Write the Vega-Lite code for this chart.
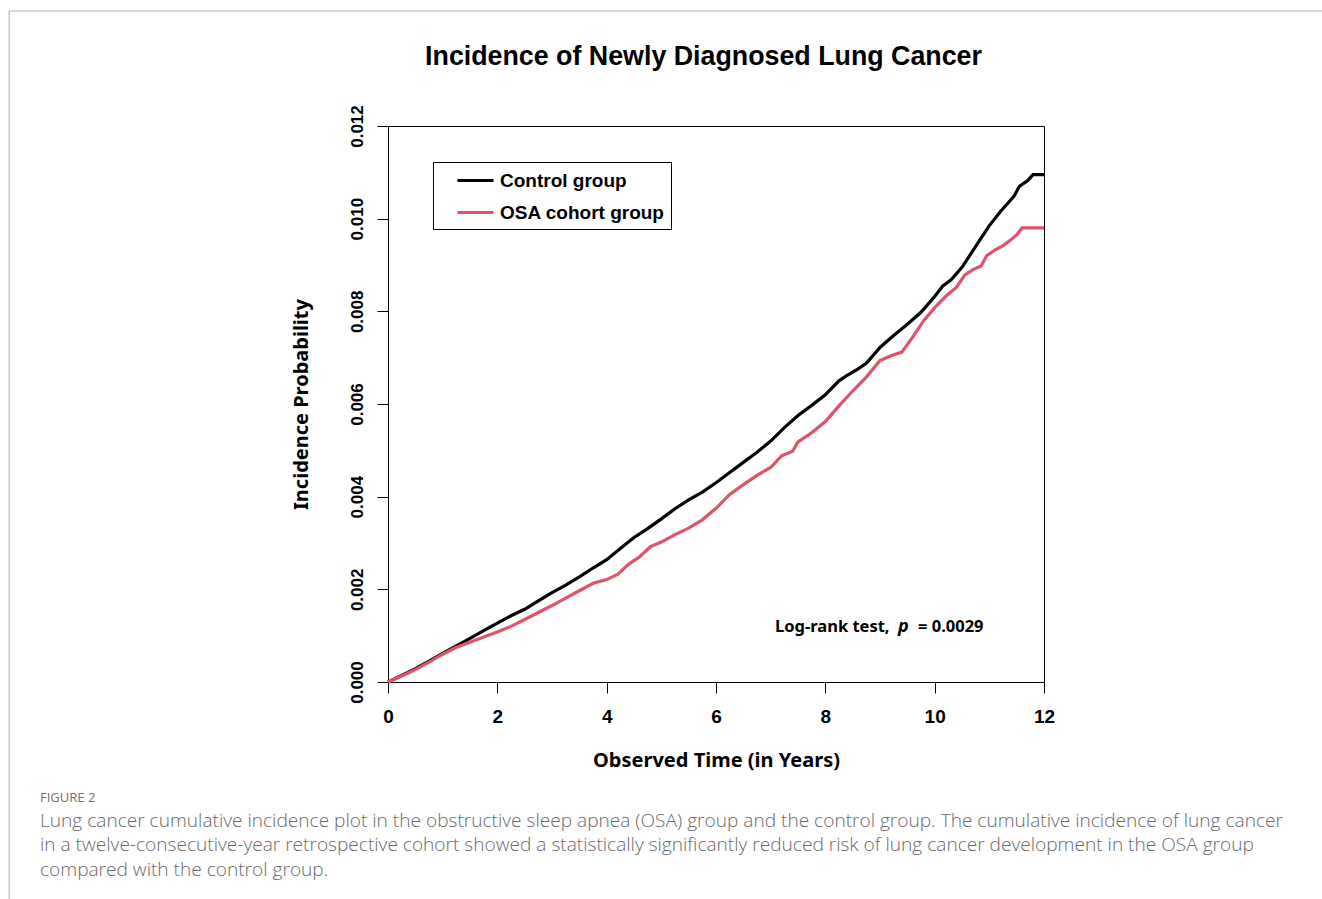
{
  "$schema": "https://vega.github.io/schema/vega-lite/v6.json",
  "width": 656,
  "height": 556,
  "autosize": {"type": "none"},
  "padding": {"left": 388, "top": 126, "right": 278, "bottom": 217},
  "background": "white",
  "title": {
    "text": "FIGURE 2",
    "subtitle": [
      "Lung cancer cumulative incidence plot in the obstructive sleep apnea (OSA) group and the control group. The cumulative incidence of lung cancer",
      "in a twelve-consecutive-year retrospective cohort showed a statistically significantly reduced risk of lung cancer development in the OSA group",
      "compared with the control group."
    ],
    "orient": "bottom",
    "anchor": "start",
    "frame": "group",
    "dx": -348,
    "offset": -109,
    "font": "Open Sans",
    "fontSize": 13,
    "fontWeight": "normal",
    "color": "#707070",
    "subtitleFont": "Open Sans",
    "subtitleFontSize": 19.1,
    "subtitleFontWeight": 300,
    "subtitleColor": "#6a6a6a",
    "subtitleLineHeight": 24.5,
    "subtitlePadding": 7
  },
  "datasets": {
    "curves": [
      {"group": "Control group", "t": 0, "p": 0},
      {"group": "Control group", "t": 0.25, "p": 0.00014},
      {"group": "Control group", "t": 0.5, "p": 0.00029},
      {"group": "Control group", "t": 0.75, "p": 0.00045},
      {"group": "Control group", "t": 1.0, "p": 0.00062},
      {"group": "Control group", "t": 1.25, "p": 0.00078},
      {"group": "Control group", "t": 1.5, "p": 0.00094},
      {"group": "Control group", "t": 1.75, "p": 0.00111},
      {"group": "Control group", "t": 2.0, "p": 0.00127},
      {"group": "Control group", "t": 2.25, "p": 0.00143},
      {"group": "Control group", "t": 2.5, "p": 0.00157},
      {"group": "Control group", "t": 2.75, "p": 0.00175},
      {"group": "Control group", "t": 3.0, "p": 0.00193},
      {"group": "Control group", "t": 3.25, "p": 0.00209},
      {"group": "Control group", "t": 3.5, "p": 0.00227},
      {"group": "Control group", "t": 3.75, "p": 0.00246},
      {"group": "Control group", "t": 4.0, "p": 0.00264},
      {"group": "Control group", "t": 4.25, "p": 0.00288},
      {"group": "Control group", "t": 4.5, "p": 0.00312},
      {"group": "Control group", "t": 4.75, "p": 0.00331},
      {"group": "Control group", "t": 5.0, "p": 0.00352},
      {"group": "Control group", "t": 5.25, "p": 0.00374},
      {"group": "Control group", "t": 5.5, "p": 0.00393},
      {"group": "Control group", "t": 5.75, "p": 0.0041},
      {"group": "Control group", "t": 6.0, "p": 0.0043},
      {"group": "Control group", "t": 6.25, "p": 0.00452},
      {"group": "Control group", "t": 6.5, "p": 0.00474},
      {"group": "Control group", "t": 6.75, "p": 0.00496},
      {"group": "Control group", "t": 7.0, "p": 0.0052},
      {"group": "Control group", "t": 7.25, "p": 0.00549},
      {"group": "Control group", "t": 7.5, "p": 0.00575},
      {"group": "Control group", "t": 7.75, "p": 0.00597},
      {"group": "Control group", "t": 8.0, "p": 0.0062},
      {"group": "Control group", "t": 8.25, "p": 0.0065},
      {"group": "Control group", "t": 8.4, "p": 0.00662},
      {"group": "Control group", "t": 8.6, "p": 0.00676},
      {"group": "Control group", "t": 8.75, "p": 0.00688},
      {"group": "Control group", "t": 9.0, "p": 0.00722},
      {"group": "Control group", "t": 9.25, "p": 0.00748},
      {"group": "Control group", "t": 9.5, "p": 0.00772},
      {"group": "Control group", "t": 9.75, "p": 0.00798},
      {"group": "Control group", "t": 10.0, "p": 0.00832},
      {"group": "Control group", "t": 10.15, "p": 0.00855},
      {"group": "Control group", "t": 10.3, "p": 0.00868},
      {"group": "Control group", "t": 10.5, "p": 0.00895},
      {"group": "Control group", "t": 10.75, "p": 0.0094},
      {"group": "Control group", "t": 11.0, "p": 0.00985},
      {"group": "Control group", "t": 11.2, "p": 0.01015},
      {"group": "Control group", "t": 11.35, "p": 0.01035},
      {"group": "Control group", "t": 11.45, "p": 0.01048},
      {"group": "Control group", "t": 11.55, "p": 0.0107},
      {"group": "Control group", "t": 11.7, "p": 0.01082},
      {"group": "Control group", "t": 11.8, "p": 0.01095},
      {"group": "Control group", "t": 12.0, "p": 0.01095},
      {"group": "OSA cohort group", "t": 0, "p": 0},
      {"group": "OSA cohort group", "t": 0.25, "p": 0.00013},
      {"group": "OSA cohort group", "t": 0.5, "p": 0.00027},
      {"group": "OSA cohort group", "t": 0.75, "p": 0.00043},
      {"group": "OSA cohort group", "t": 1.0, "p": 0.0006},
      {"group": "OSA cohort group", "t": 1.25, "p": 0.00075},
      {"group": "OSA cohort group", "t": 1.5, "p": 0.00086},
      {"group": "OSA cohort group", "t": 1.75, "p": 0.00097},
      {"group": "OSA cohort group", "t": 2.0, "p": 0.00108},
      {"group": "OSA cohort group", "t": 2.25, "p": 0.0012},
      {"group": "OSA cohort group", "t": 2.5, "p": 0.00135},
      {"group": "OSA cohort group", "t": 2.75, "p": 0.0015},
      {"group": "OSA cohort group", "t": 3.0, "p": 0.00165},
      {"group": "OSA cohort group", "t": 3.25, "p": 0.00181},
      {"group": "OSA cohort group", "t": 3.5, "p": 0.00197},
      {"group": "OSA cohort group", "t": 3.75, "p": 0.00213},
      {"group": "OSA cohort group", "t": 4.0, "p": 0.00221},
      {"group": "OSA cohort group", "t": 4.2, "p": 0.00232},
      {"group": "OSA cohort group", "t": 4.4, "p": 0.00254},
      {"group": "OSA cohort group", "t": 4.6, "p": 0.0027},
      {"group": "OSA cohort group", "t": 4.8, "p": 0.00292},
      {"group": "OSA cohort group", "t": 5.0, "p": 0.00302},
      {"group": "OSA cohort group", "t": 5.25, "p": 0.00318},
      {"group": "OSA cohort group", "t": 5.5, "p": 0.00332},
      {"group": "OSA cohort group", "t": 5.75, "p": 0.0035},
      {"group": "OSA cohort group", "t": 6.0, "p": 0.00375},
      {"group": "OSA cohort group", "t": 6.25, "p": 0.00405},
      {"group": "OSA cohort group", "t": 6.5, "p": 0.00426},
      {"group": "OSA cohort group", "t": 6.75, "p": 0.00446},
      {"group": "OSA cohort group", "t": 7.0, "p": 0.00463},
      {"group": "OSA cohort group", "t": 7.2, "p": 0.00488},
      {"group": "OSA cohort group", "t": 7.4, "p": 0.00498},
      {"group": "OSA cohort group", "t": 7.5, "p": 0.00518},
      {"group": "OSA cohort group", "t": 7.75, "p": 0.00538},
      {"group": "OSA cohort group", "t": 8.0, "p": 0.00562},
      {"group": "OSA cohort group", "t": 8.25, "p": 0.00596},
      {"group": "OSA cohort group", "t": 8.5, "p": 0.00628},
      {"group": "OSA cohort group", "t": 8.75, "p": 0.00658},
      {"group": "OSA cohort group", "t": 9.0, "p": 0.00694},
      {"group": "OSA cohort group", "t": 9.2, "p": 0.00704},
      {"group": "OSA cohort group", "t": 9.4, "p": 0.00712},
      {"group": "OSA cohort group", "t": 9.6, "p": 0.00745},
      {"group": "OSA cohort group", "t": 9.8, "p": 0.0078},
      {"group": "OSA cohort group", "t": 10.0, "p": 0.00808},
      {"group": "OSA cohort group", "t": 10.2, "p": 0.00832},
      {"group": "OSA cohort group", "t": 10.4, "p": 0.00852},
      {"group": "OSA cohort group", "t": 10.55, "p": 0.00878},
      {"group": "OSA cohort group", "t": 10.7, "p": 0.0089},
      {"group": "OSA cohort group", "t": 10.85, "p": 0.00898},
      {"group": "OSA cohort group", "t": 10.95, "p": 0.0092},
      {"group": "OSA cohort group", "t": 11.1, "p": 0.00932},
      {"group": "OSA cohort group", "t": 11.25, "p": 0.00942},
      {"group": "OSA cohort group", "t": 11.4, "p": 0.00955},
      {"group": "OSA cohort group", "t": 11.5, "p": 0.00965},
      {"group": "OSA cohort group", "t": 11.6, "p": 0.0098},
      {"group": "OSA cohort group", "t": 12.0, "p": 0.0098}
    ],
    "note": [
      {"label": "Log-rank test,", "t": 7.079, "p": 0.00119},
      {"label": "= 0.0029", "t": 9.695, "p": 0.00119}
    ],
    "noteP": [
      {"label": "p", "t": 9.329, "p": 0.00119}
    ],
    "frame": [
      {"t1": -6.93, "t2": 17.1, "p1": 0.01448, "p2": 0.01448},
      {"t1": -6.93, "t2": -6.93, "p1": 0.01448, "p2": -0.0047}
    ]
  },
  "layer": [
    {
      "data": {"name": "frame"},
      "mark": {"type": "rule", "color": "#c8c8c8", "strokeWidth": 1.5, "clip": false},
      "encoding": {
        "x": {"field": "t1", "type": "quantitative", "scale": {"domain": [0, 12], "nice": false, "zero": false}, "axis": null},
        "x2": {"field": "t2"},
        "y": {"field": "p1", "type": "quantitative", "scale": {"domain": [0, 0.012], "nice": false}, "axis": null},
        "y2": {"field": "p2"}
      }
    },
    {
      "data": {"name": "curves"},
      "mark": {"type": "line", "strokeWidth": 3.2, "clip": false},
      "encoding": {
        "x": {
          "field": "t", "type": "quantitative",
          "scale": {"domain": [0, 12], "nice": false, "zero": false},
          "axis": {
            "orient": "bottom",
            "values": [0, 2, 4, 6, 8, 10, 12],
            "grid": false,
            "domain": true,
            "domainColor": "black",
            "tickColor": "black",
            "tickSize": 11,
            "labelFlush": false,
            "labelFont": "Liberation Sans",
            "labelFontWeight": "bold",
            "labelFontSize": 19,
            "labelColor": "black",
            "labelPadding": 14,
            "title": "Observed Time (in Years)",
            "titleFont": "Noto Sans",
            "titleFontWeight": "bold",
            "titleFontSize": 20,
            "titleColor": "black",
            "titlePadding": 24
          }
        },
        "y": {
          "field": "p", "type": "quantitative",
          "scale": {"domain": [0, 0.012], "nice": false},
          "axis": {
            "orient": "left",
            "values": [0, 0.002, 0.004, 0.006, 0.008, 0.01, 0.012],
            "format": ".3f",
            "grid": false,
            "domain": true,
            "domainColor": "black",
            "tickColor": "black",
            "tickSize": 11,
            "labelAngle": 270,
            "labelAlign": "center",
            "labelBaseline": "bottom",
            "labelFont": "Liberation Sans",
            "labelFontWeight": "bold",
            "labelFontSize": 17,
            "labelColor": "black",
            "labelPadding": 11,
            "title": "Incidence Probability",
            "titleFont": "Noto Sans",
            "titleFontWeight": "bold",
            "titleFontSize": 20,
            "titleColor": "black",
            "titlePadding": 37
          }
        },
        "color": {
          "field": "group", "type": "nominal",
          "scale": {"domain": ["Control group", "OSA cohort group"], "range": ["#000000", "#DF536B"]},
          "legend": {
            "title": null,
            "orient": "none",
            "legendX": 45,
            "legendY": 36,
            "strokeColor": "black",
            "fillColor": "white",
            "padding": 6,
            "symbolOffset": 24,
            "symbolType": "M-1.636,0H1.636",
            "symbolSize": 484,
            "symbolStrokeWidth": 3,
            "labelOffset": 12,
            "labelLimit": 400,
            "rowPadding": 9,
            "labelFont": "Liberation Sans",
            "labelFontWeight": "bold",
            "labelFontSize": 19,
            "labelColor": "black"
          }
        }
      }
    },
    {
      "data": {"name": "note"},
      "mark": {"type": "text", "align": "left", "baseline": "middle", "font": "Noto Sans", "fontWeight": "bold", "fontSize": 16.5, "color": "black"},
      "encoding": {
        "x": {
          "field": "t", "type": "quantitative",
          "scale": {"domain": [0, 12], "nice": false, "zero": false},
          "axis": {
            "orient": "top",
            "domain": false,
            "ticks": false,
            "labels": false,
            "grid": false,
            "title": "Incidence of Newly Diagnosed Lung Cancer",
            "titleFont": "Liberation Sans",
            "titleFontWeight": "bold",
            "titleFontSize": 26.8,
            "titleColor": "black",
            "titlePadding": 56,
            "titleX": 315
          }
        },
        "y": {"field": "p", "type": "quantitative", "scale": {"domain": [0, 0.012], "nice": false}, "axis": null},
        "text": {"field": "label"}
      }
    },
    {
      "data": {"name": "noteP"},
      "mark": {"type": "text", "align": "left", "baseline": "middle", "font": "Noto Sans", "fontWeight": "bold", "fontStyle": "italic", "fontSize": 18, "color": "black"},
      "encoding": {
        "x": {"field": "t", "type": "quantitative", "scale": {"domain": [0, 12], "nice": false, "zero": false}, "axis": null},
        "y": {"field": "p", "type": "quantitative", "scale": {"domain": [0, 0.012], "nice": false}, "axis": null},
        "text": {"field": "label"}
      }
    }
  ],
  "resolve": {"axis": {"x": "independent", "y": "independent"}},
  "config": {
    "view": {"stroke": "black", "strokeWidth": 1},
    "axis": {"domainWidth": 1, "tickWidth": 1}
  }
}
